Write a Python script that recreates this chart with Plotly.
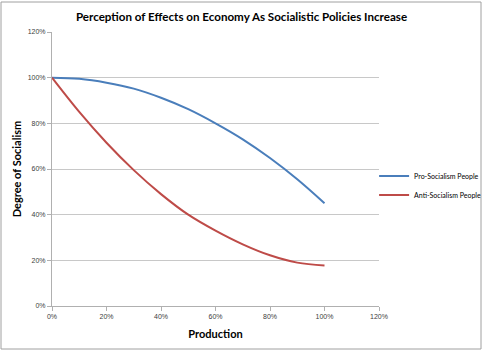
import plotly.graph_objects as go

production = [0.0, 0.1, 0.2, 0.3, 0.4, 0.5, 0.6, 0.7, 0.8, 0.9, 1.0]
pro_socialism = [1.00, 0.995, 0.978, 0.952, 0.912, 0.862, 0.80, 0.73, 0.648, 0.555, 0.45]
anti_socialism = [1.00, 0.85, 0.715, 0.595, 0.49, 0.40, 0.33, 0.27, 0.222, 0.19, 0.177]
tick_vals = [0, 0.2, 0.4, 0.6, 0.8, 1.0, 1.2]
tick_text = ["0%", "20%", "40%", "60%", "80%", "100%", "120%"]

W, H = 483, 350
ml, mr, mt, mb = 52, 104, 32, 44
pw, ph = W - ml - mr, H - mt - mb
FONT = "Lato, Open Sans, sans-serif"

fig = go.Figure()
fig.add_trace(go.Scatter(x=production, y=pro_socialism, mode="lines", name="Pro-Socialism People",
                         line=dict(color="#4a7ebb", width=2, shape="spline")))
fig.add_trace(go.Scatter(x=production, y=anti_socialism, mode="lines", name="Anti-Socialism People",
                         line=dict(color="#be4b48", width=2, shape="spline")))

fig.update_layout(
    width=W, height=H,
    margin=dict(l=ml, r=mr, t=mt, b=mb, autoexpand=False),
    paper_bgcolor="white", plot_bgcolor="white",
    title=dict(text="<b>Perception of Effects on Economy As Socialistic Policies Increase</b>",
               x=0.5, xref="container", xanchor="center", y=1 - 17 / H, yref="container", yanchor="middle",
               font=dict(family=FONT, size=11.6, color="#000000")),
    xaxis=dict(range=[0, 1.2], tickvals=tick_vals, ticktext=tick_text,
               showgrid=False, zeroline=False, showline=True, linecolor="#b0b0b0", linewidth=1,
               ticks="outside", ticklen=4, tickcolor="#b0b0b0",
               tickfont=dict(family="Liberation Sans", size=7, color="#404040"),
               title=dict(text="<b>Production</b>", standoff=10,
                          font=dict(family=FONT, size=11, color="#000000"))),
    yaxis=dict(range=[0, 1.2], tickvals=tick_vals, ticktext=tick_text,
               showgrid=True, gridcolor="#c8c8c8", gridwidth=1, zeroline=False,
               showline=True, linecolor="#b0b0b0", linewidth=1,
               ticks="outside", ticklen=4, tickcolor="#b0b0b0",
               tickfont=dict(family="Liberation Sans", size=7, color="#404040"),
               title=dict(text="<b>Degree of Socialism</b>", standoff=3,
                          font=dict(family=FONT, size=11, color="#000000"))),
    legend=dict(x=0.985, y=0.44, xanchor="left", yanchor="middle", bgcolor="rgba(0,0,0,0)",
                font=dict(family=FONT, size=7, color="#000000"),
                itemwidth=30, tracegroupgap=2),
    showlegend=True,
)

fig.add_shape(type="rect", xref="paper", yref="paper",
              x0=(1 - ml) / pw, x1=(W - ml - 2) / pw,
              y0=-(mb - 1) / ph, y1=(ph + mt - 2) / ph,
              line=dict(color="#a0a0a0", width=1), fillcolor="rgba(0,0,0,0)", layer="below")

fig.write_html("out.html")
